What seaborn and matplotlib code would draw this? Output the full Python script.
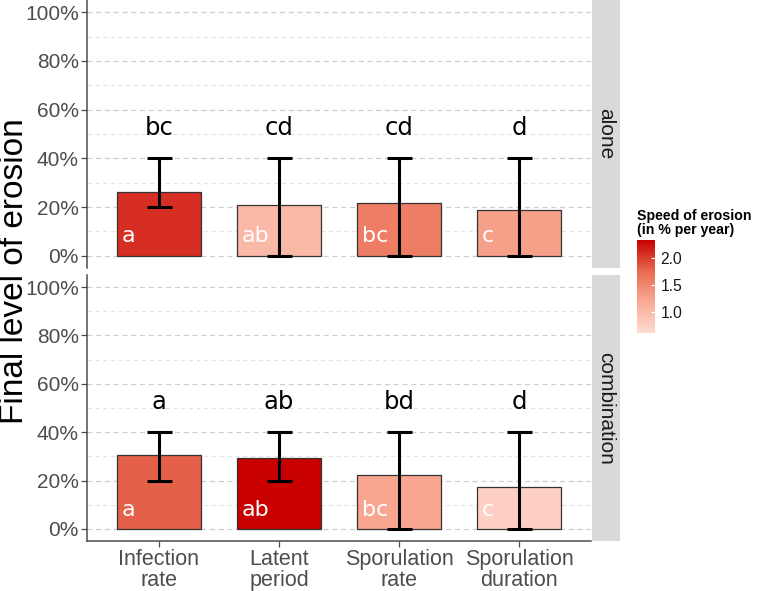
import numpy as np
import pandas as pd
import matplotlib
matplotlib.use("Agg")
import matplotlib.pyplot as plt
import seaborn as sns
from matplotlib.colors import LinearSegmentedColormap, Normalize
from matplotlib.ticker import PercentFormatter, MultipleLocator

# Daten
params = ["Infection\nrate", "Latent\nperiod", "Sporulation\nrate", "Sporulation\nduration"]
panels = ["alone", "combination"]

level_alone = [0.262, 0.208, 0.218, 0.190]
level_comb = [0.304, 0.293, 0.225, 0.172]
err_low_alone = [0.20, 0.0, 0.0, 0.0]
err_high_alone = [0.40, 0.40, 0.40, 0.40]
err_low_comb = [0.20, 0.20, 0.0, 0.0]
err_high_comb = [0.40, 0.40, 0.40, 0.40]
speed_alone = [2.08, 1.03, 1.58, 1.28]
speed_comb = [1.80, 2.33, 1.23, 0.74]
top_letters_alone = ["bc", "cd", "cd", "d"]
top_letters_comb = ["a", "ab", "bd", "d"]
inner_letters = ["a", "ab", "bc", "c"]

speed_min, speed_max = 0.61, 2.33

cmap = LinearSegmentedColormap.from_list("erosion", ["#fedbd0", "#f9ab96", "#e8694f", "#c80000"])
norm = Normalize(speed_min, speed_max)

plt.rcParams['font.family'] = ['Liberation Sans', 'DejaVu Sans']

df = pd.DataFrame({
    "param": params * 2,
    "panel": ["alone"] * 4 + ["combination"] * 4,
    "level": level_alone + level_comb,
    "lo": err_low_alone + err_low_comb,
    "hi": err_high_alone + err_high_comb,
    "speed": speed_alone + speed_comb,
    "top": top_letters_alone + top_letters_comb,
    "inner": inner_letters * 2,
})

fig = plt.figure(figsize=(7.61, 5.91), dpi=100)
W, H = 761, 591
ax_left, ax_right = 87, 591
boxes = {"alone": (0, 268), "combination": (275, 541)}

for panel in panels:
    y0, y1 = boxes[panel]
    ax = fig.add_axes([ax_left / W, 1 - y1 / H, (ax_right - ax_left) / W, (y1 - y0) / H])
    sub = df[df["panel"] == panel].reset_index(drop=True)
    pal = {p: cmap(norm(s)) for p, s in zip(sub["param"], sub["speed"])}

    # Gitterlinien
    for v in np.arange(0.1, 1.0, 0.2):
        ax.axhline(v, color="#e3e3e3", lw=0.8, ls=(0, (4, 3)), zorder=0)
    for v in np.arange(0, 1.01, 0.2):
        ax.axhline(v, color="#cdcdcd", lw=0.9, ls=(0, (4, 3)), zorder=0)

    sns.barplot(data=sub, x="param", y="level", hue="param", palette=pal, legend=False,
                saturation=1, width=0.7, edgecolor="#333333", linewidth=0.9, ax=ax, zorder=2)
    xs = np.arange(len(sub))
    mid = (sub["lo"] + sub["hi"]) / 2
    half = (sub["hi"] - sub["lo"]) / 2
    ax.errorbar(xs, mid, yerr=half, fmt="none", ecolor="black", elinewidth=2.2,
                capsize=9, capthick=2.2, zorder=3)
    for x, t in zip(xs, sub["top"]):
        ax.text(x, 0.525, t, ha="center", va="center", fontsize=17.5, color="black",
                family="DejaVu Sans")
    for x, t in zip(xs, sub["inner"]):
        ax.text(x - 0.31, 0.08, t, ha="left", va="center", fontsize=16, color="white",
                family="DejaVu Sans", zorder=4)

    ax.set_ylim(-0.05, 1.05)
    ax.set_xlim(-0.6, 3.6)
    ax.yaxis.set_major_locator(MultipleLocator(0.2))
    ax.yaxis.set_major_formatter(PercentFormatter(1, decimals=0))
    ax.tick_params(axis="y", labelsize=15, labelcolor="#4d4d4d", color="#4d4d4d",
                   length=4, width=0.9, pad=2)
    ax.set_xlabel("")
    ax.set_ylabel("")
    for s in ["top", "right"]:
        ax.spines[s].set_visible(False)
    ax.spines["left"].set_color("#4d4d4d")
    ax.spines["left"].set_linewidth(1.1)
    if panel == "alone":
        ax.spines["bottom"].set_visible(False)
        ax.tick_params(axis="x", bottom=False, labelbottom=False)
    else:
        ax.spines["bottom"].set_color("#4d4d4d")
        ax.spines["bottom"].set_linewidth(1.1)
        ax.tick_params(axis="x", labelsize=15.5, labelcolor="#4d4d4d", color="#4d4d4d",
                       length=4, width=0.9, pad=2)
        for lab in ax.get_xticklabels():
            lab.set_linespacing(1.0)

    # Facetten-Streifen
    sax = fig.add_axes([592 / W, 1 - y1 / H, 28 / W, (y1 - y0) / H])
    sax.set_facecolor("#d9d9d9")
    sax.set_xticks([])
    sax.set_yticks([])
    for s in sax.spines.values():
        s.set_visible(False)
    sax.text(0.5, 0.5, panel, rotation=-90, ha="center", va="center", fontsize=15,
             color="#1a1a1a", transform=sax.transAxes)

fig.text(15 / W, 1 - 271 / H, "Final level of erosion", rotation=90, ha="center", va="center",
         fontsize=24, color="black")

# Farbskala
cax = fig.add_axes([637 / W, 1 - 333 / H, 18 / W, 93 / H])
sm = plt.cm.ScalarMappable(norm=norm, cmap=cmap)
cb = fig.colorbar(sm, cax=cax, ticks=[1.0, 1.5, 2.0])
cb.outline.set_visible(False)
cb.ax.tick_params(labelsize=11.3, colors="white", length=3, width=0.8, direction="in", pad=4)
for lab in cb.ax.get_yticklabels():
    lab.set_color("#1a1a1a")
cb.ax.set_yticklabels(["1.0", "1.5", "2.0"])
fig.text(637 / W, 1 - 237 / H, "Speed of erosion\n(in % per year)", ha="left", va="bottom",
         fontsize=10.2, fontweight="bold", color="black", linespacing=1.0)

plt.savefig("out.png", dpi=100)
